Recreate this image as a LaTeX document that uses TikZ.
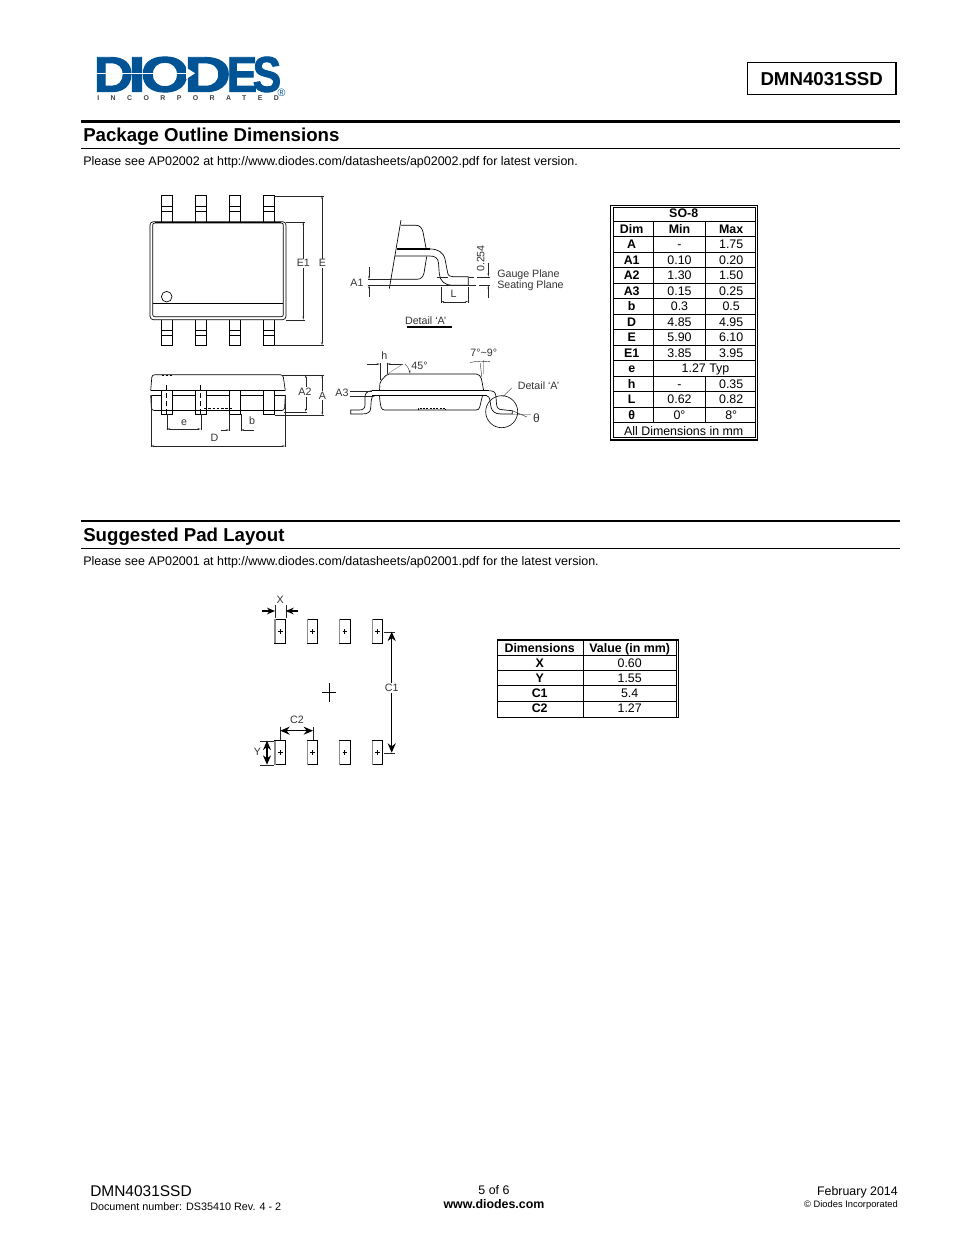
\documentclass[tikz,border=0pt]{standalone}
\usepackage{fontspec}
\usepackage{graphicx}
\setmainfont{Liberation Sans}
\newfontfamily\logofont{Liberation Sans Bold}[FakeBold=1.8]
\usetikzlibrary{arrows.meta}
\newcommand{\fsz}[1]{\fontsize{#1}{#1}\selectfont}
\tikzset{
  txt/.style={inner sep=0pt, anchor=base, font=\fsz{9.3}},
  dimtxt/.style={inner sep=0.8pt, fill=white, text=black!80, font=\fsz{8}},
  plaintxt/.style={inner sep=0pt, text=black!80, font=\fsz{8}},
  dimline/.style={line width=0.3pt, black!85},
  part/.style={line width=0.5pt, black},
  small/.style={dimline, {Stealth[length=2.5pt,width=1.2pt]}-{Stealth[length=2.5pt,width=1.2pt]}},
  big/.style={line width=1.1pt, black, {Stealth[length=7pt,width=6pt]}-{Stealth[length=7pt,width=6pt]}},
  bigin/.style={line width=1pt, black, -{Stealth[length=6pt,width=5pt]}},
  pad/.style={line width=0.6pt, black, fill=white},
  tick/.style={line width=0.7pt, black}
}
\begin{document}
\begin{tikzpicture}[x=0.75pt, y=-0.75pt]
\useasboundingbox (0,0) rectangle (954,1235);
% logo
\definecolor{logoblue}{RGB}{0,84,150}
\foreach \x/\c/\s/\n in {113.5/D/1.1/a, 137/I/1.25/b, 165/O/1.25/c, 207.5/D/1.3/d, 242/E/0.92/e, 267/S/0.86/f}
  \node[inner sep=0pt, anchor=base, text=logoblue, font=\logofont\fsz{37.5}] (logo\n) at (\x, 91.7) {\scalebox{\s}[1]{\c}};
\fill[white] (96,72.6) rectangle (188,74);
\fill[white] (186,67.5) -- (195,73.3) -- (186,79.2) -- cycle;
\node[inner sep=0pt, anchor=base west, text=black!75, font=\bfseries\fsz{5.2}\addfontfeature{LetterSpace=165}] (incorporated) at (97, 100.5) {INCORPORATED};
\node[inner sep=0pt, text=logoblue, font=\fsz{8}] (regmark) at (281.5, 92.5) {®};
% header
\draw[line width=0.8pt] (747.5,62.5) rectangle (896,94.5);
\node[txt, font=\bfseries\fsz{14}] (partno) at (821.7, 85.5) {DMN4031SSD};
% first section
\draw[line width=2pt] (81,121.3) -- (900,121.3);
\draw[line width=1.2pt] (81,148.5) -- (900,148.5);
\node[txt, anchor=base west, font=\bfseries\fsz{14}] (outlinetitle) at (83, 141.5) {Package Outline Dimensions};
\node[txt, anchor=base west, font=\fsz{9.36}] (outlinenote) at (83, 165) {Please see AP02002 at http://www.diodes.com/datasheets/ap02002.pdf for latest version.};
% top view
\draw[part, rounded corners=2.5pt] (150,221.7) rectangle (286,319.7);
\draw[part, rounded corners=1.5pt] (152.7,223) rectangle (283.3,316.7);
\draw[line width=1.1pt] (155,222.4) -- (281,222.4);
\draw[part] (152.7,303) -- (283.3,303);
\draw[part] (166.7,296.7) circle (5.3);
\foreach \x in {161.3, 195, 229.3, 262.9} {
  \draw[part] (\x,221.7) -- (\x,195.7) -- (\x+11.4,195.7) -- (\x+11.4,221.7);
  \draw[part] (\x,206.7) -- (\x+11.4,206.7) (\x,211.7) -- (\x+11.4,211.7);
  \draw[part] (\x,319.7) -- (\x,345.3) -- (\x+11.4,345.3) -- (\x+11.4,319.7);
  \draw[part] (\x,330) -- (\x+11.4,330) (\x,335) -- (\x+11.4,335);
}
\draw[dimline] (274.3,195.7) -- (323.5,195.7) (274.3,345.3) -- (323.5,345.3);
\draw[dimline] (286,221.7) -- (305,221.7) (286,319.7) -- (305,319.7);
\draw[small] (303.3,221.7) -- (303.3,319.7);
\draw[small] (322,195.7) -- (322,345.3);
\node[dimtxt] (lblEone) at (303.3,263.3) {E1};
\node[dimtxt] (lblE) at (322.5,263.3) {E};
% side view
\draw[part, rounded corners=2pt] (150.7,390.7) -- (152,374.7) -- (283,374.7) -- (285.3,390.7);
\draw[part, rounded corners=2pt] (150.7,395.3) -- (151.5,410.5) -- (284.5,410.5) -- (285.3,395.3);
\draw[part] (150.7,390.7) -- (285.3,390.7) (150.7,395.3) -- (285.3,395.3);
\draw[line width=1pt, dash pattern=on 2pt off 1pt] (161.7,375.2) -- (173.3,375.2);
\foreach \x in {161.3, 195, 229.3, 263.3} {
  \draw[pad] (\x,390.7) rectangle (\x+11.4,414.3);
  \draw[part] (\x,410.3) -- (\x+11.4,410.3);
}
\draw[line width=0.9pt, dash pattern=on 2pt off 1.2pt] (204,408.7) -- (231.7,408.7);
\draw[part, dash pattern=on 4pt off 2pt] (166.7,385) -- (166.7,414);
\draw[part, dash pattern=on 4pt off 2pt] (200.7,385) -- (200.7,414);
\draw[dimline] (166.7,414) -- (166.7,430) (200.7,414) -- (200.7,430);
\draw[small] (166.7,429) -- (200.7,429);
\node[plaintxt] (lble) at (184,422.5) {e};
\draw[dimline] (229.3,414.3) -- (229.3,431) (240.7,414.3) -- (240.7,431);
\draw[dimline, -{Stealth[length=2.5pt,width=1.2pt]}] (220.7,430) -- (229.3,430);
\draw[dimline, -{Stealth[length=2.5pt,width=1.2pt]}] (253.5,430) -- (240.7,430);
\node[plaintxt] (lblb) at (252,421) {b};
\draw[dimline] (150.7,395) -- (150.7,447) (285.3,395) -- (285.3,447);
\draw[small] (150.7,446) -- (285.3,446);
\node[plaintxt] (lblD) at (214.5,438) {D};
\draw[dimline] (283,374.7) -- (323.5,374.7) (284,411.7) -- (306.5,411.7) (274.7,415.3) -- (323.5,415.3);
\draw[small] (305.7,374.7) -- (305.7,411.7);
\draw[small] (322.3,374.7) -- (322.3,415.3);
\node[dimtxt] (lblAtwo) at (305,392) {A2};
\node[dimtxt] (lblA) at (322.5,395.5) {A};
% detail A
\draw[part] (401,220) -- (389.3,288.7);
\draw[part] (401,225.3) -- (416,225.3) .. controls (420,225.3) and (422,228) .. (423,232) -- (426,248);
\draw[part] (426.7,256.7) -- (424,273) .. controls (423,277) and (421,279.3) .. (417,279.3) -- (390,279.3);
\draw[line width=1pt] (396.7,249) -- (430,249);
\draw[part] (430,249) .. controls (438,249) and (443,252) .. (445,259) -- (447.5,272) .. controls (448,276) and (450,276.7) .. (453,276.7) -- (468.3,276.7) -- (468.3,285.3);
\draw[part] (395,256) -- (430,256) .. controls (435,256) and (438,258) .. (438.5,263) -- (439.3,274) .. controls (440,281) and (445,285.3) .. (452,285.3) -- (468.3,285.3);
\draw[dimline] (368.3,279.3) -- (391,279.3);
\draw[dimline] (368.3,285.3) -- (470,285.3);
\draw[dimline] (470,285.3) -- (476,285.3) (479,285.3) -- (490,285.3);
\draw[dimline] (436.7,276.7) -- (448,276.7) (469,276.7) -- (474,276.7) (477,276.7) -- (490,276.7);
\draw[dimline, {Stealth[length=2.5pt,width=1.2pt]}-] (369,279.3) -- (369,267.3);
\draw[dimline, {Stealth[length=2.5pt,width=1.2pt]}-] (369,285.3) -- (369,297.3);
\node[plaintxt] (lblAone) at (357,283) {A1};
\draw[dimline] (441,287) -- (441,303) (468.3,287) -- (468.3,303);
\draw[small] (441,301.7) -- (468.3,301.7);
\node[plaintxt] (lblL) at (453.7,294.3) {L};
\draw[dimline, {Stealth[length=2.5pt,width=1.2pt]}-] (488.3,276.7) -- (488.3,263.3);
\draw[dimline, {Stealth[length=2.5pt,width=1.2pt]}-] (488.3,285.3) -- (488.3,298.3);
\node[plaintxt, rotate=90] (lblgap) at (480.7,258.5) {0.254};
\node[plaintxt, anchor=west] (lblgauge) at (497,274.3) {Gauge Plane};
\node[plaintxt, anchor=west] (lblseat) at (497,286) {Seating Plane};
\node[plaintxt] (lblDetailone) at (425.7,320.5) {Detail `A'};
\draw[line width=0.9pt] (406.7,327) -- (451.7,327);
% front view
\draw[part, rounded corners=1.5pt] (379.5,390.7) -- (380,381.7) -- (387.3,374) -- (478,374) -- (481,376.7) -- (483.7,390.7);
\draw[part, rounded corners=2pt] (379.5,395.7) -- (380,402) -- (381.7,410) -- (479,410) -- (482.5,395.7);
\draw[part] (371.7,390.7) -- (489.3,390.7) (371.7,395.7) -- (487,395.7);
\draw[part] (371.7,390.7) .. controls (367,391.5) and (365,393) .. (365,397) -- (365,405) .. controls (365,408.5) and (363,410) .. (359,410) -- (350.7,410) -- (350.7,414) -- (362,414) .. controls (368,414) and (370.5,412) .. (370.7,408) -- (371.3,400) .. controls (371.5,397) and (372.5,395.7) .. (375,395.7);
\draw[part] (489.3,390.7) .. controls (493.5,390.7) and (495.7,392.5) .. (495.9,396) -- (496.5,404) .. controls (497,408) and (498.5,409.5) .. (502,409.7) -- (512.3,410.7) -- (512.3,414) -- (501,414) .. controls (495,414) and (492,411.5) .. (491,407) -- (490,401) .. controls (489.5,397.5) and (488.5,395.7) .. (486.5,395.7);
\draw[part, dash pattern=on 1.5pt off 1pt] (418.3,410) -- (418.3,408) -- (445,408) -- (445,410);
\draw[line width=0.45pt] (501.7,411.7) circle (16);
\draw[dimline] (503,396.5) -- (511.7,388);
\node[plaintxt] (lblDetailtwo) at (538.5,385.5) {Detail `A'};
\draw[dimline] (512.3,414.5) -- (531,414.5) (512.3,410.7) -- (527,417);
\node[plaintxt, font=\fsz{9}] (lbltheta) at (536.5,418) {θ};
\draw[dimline] (380,362.5) -- (380,380) (387.3,362.5) -- (387.3,374);
\draw[dimline, -{Stealth[length=2.5pt,width=1.2pt]}] (366.7,364) -- (380,364);
\draw[dimline, -{Stealth[length=2.5pt,width=1.2pt]}] (403,364) -- (387.3,364);
\node[plaintxt] (lblh) at (384.3,355.3) {h};
\draw[dimline, -{Stealth[length=2.5pt,width=1.2pt]}] (405,364) .. controls (408,367) and (409.5,370) .. (410,373.7);
\draw[dimline, black!50] (387.3,374) -- (403,364);
\node[plaintxt] (lblfortyfive) at (419.5,366) {45°};
\node[plaintxt] (lblangle) at (483.7,353.3) {7°\textasciitilde 9°};
\draw[dimline] (470,362.5) .. controls (476,361) and (484,361) .. (490,361.7);
\draw[dimline] (483.5,360) -- (483.5,374) (480.3,363.3) -- (481.7,376.7);
\draw[dimline] (349.5,390.7) -- (372,390.7) (349.5,395.7) -- (372,395.7);
\node[plaintxt] (lblAthree) at (342,392.7) {A3};
% outline table
\draw[line width=0.9pt] (610.7,205.3) rectangle (757.7,440);
\draw[line width=0.6pt] (613,206.9) rectangle (755.3,437.7);
\foreach \y in {221,236.5,252,267.5,283,298.5,314,329.5,345,360.5,376,391.5,407,422.5}
  \draw[line width=0.5pt] (613,\y) -- (755.3,\y);
\draw[line width=0.5pt] (653,221) -- (653,422.5);
\draw[line width=0.5pt] (705,221) -- (705,360.5) (705,376) -- (705,422.5);
\node[txt, font=\bfseries\fsz{9.3}] (tabtitle) at (683.7,217.8) {SO-8};
\foreach \y/\d/\lo/\hi [count=\i] in {233.3/Dim/Min/Max}{
  \node[txt, font=\bfseries\fsz{9.3}] (dimhead) at (631.7,\y) {\d};
  \node[txt, font=\bfseries\fsz{9.3}] (minhead) at (679.5,\y) {\lo};
  \node[txt, font=\bfseries\fsz{9.3}] (maxhead) at (731.2,\y) {\hi};
}
\foreach \y/\d/\lo/\hi [count=\i] in {248.5/A/-/1.75, 264.3/A1/0.10/0.20, 279.5/A2/1.30/1.50, 295/A3/0.15/0.25, 310.5/b/0.3/0.5, 326.3/D/4.85/4.95, 341/E/5.90/6.10, 357/E1/3.85/3.95, 388/h/-/0.35, 403.5/L/0.62/0.82, 419/θ/0°/8°}{
  \node[txt, font=\bfseries\fsz{9.3}] (dim\i) at (631.7,\y) {\d};
  \node[txt] (min\i) at (679.5,\y) {\lo};
  \node[txt] (max\i) at (731.2,\y) {\hi};
}
\node[txt, font=\bfseries\fsz{9.3}] (dime) at (631.7,372) {e};
\node[txt] (typ) at (705.5,372) {1.27 Typ};
\node[txt] (allmm) at (683.7,435.5) {All Dimensions in mm};
% second section
\draw[line width=1.5pt] (81,521.3) -- (900,521.3);
\draw[line width=1.2pt] (81,548.5) -- (900,548.5);
\node[txt, anchor=base west, font=\bfseries\fsz{14}] (padtitle) at (83, 541.5) {Suggested Pad Layout};
\node[txt, anchor=base west, font=\fsz{9.36}] (padnote) at (83, 565) {Please see AP02001 at http://www.diodes.com/datasheets/ap02001.pdf for the latest version.};
% pads
\foreach \x in {275, 307.3, 339.7, 372.3}
  \foreach \y in {619.3, 740.7} {
    \draw[line width=0.8pt] (\x,\y) rectangle (\x+10.5,\y+24);
    \draw[line width=1pt, black!45] (\x,\y) -- (\x,\y+24);
    \draw[tick] (\x+3,\y+12) -- (\x+7.5,\y+12) (\x+5.25,\y+9.7) -- (\x+5.25,\y+14.3);
  }
\draw[line width=0.6pt] (322.3,692.7) -- (335.7,692.7) (329,683.3) -- (329,701.7);
% pad dimensions
\draw[dimline] (275,605) -- (275,618) (285.7,605) -- (285.7,618);
\draw[bigin] (262.3,611) -- (275,611);
\draw[bigin] (298.3,611) -- (285.7,611);
\node[plaintxt] (lblX) at (280.3,600) {X};
\draw[dimline] (384.3,631.7) -- (395,631.7) (384.3,752.7) -- (395,752.7);
\draw[big] (391.7,631.7) -- (391.7,752.7);
\node[dimtxt] (lblCone) at (391.7,688) {C1};
\draw[dimline] (280.3,726.7) -- (280.3,740) (313,726.7) -- (313,740);
\draw[big] (280.3,730.7) -- (313,730.7);
\node[plaintxt] (lblCtwo) at (297,720) {C2};
\draw[dimline] (260,740.7) -- (274,740.7) (260,764.7) -- (274,764.7);
\draw[big] (267,740.7) -- (267,764.7);
\node[plaintxt] (lblY) at (257.5,752) {Y};
% pad table
\draw[line width=1pt] (497.7,640) rectangle (678.5,717.5);
\draw[line width=0.4pt] (676.3,640) -- (676.3,717.5);
\foreach \y in {655,670.3,685.7,701}
  \draw[line width=0.5pt] (497.7,\y) -- (676.3,\y);
\draw[line width=0.6pt] (583,640) -- (583,717.5);
\node[txt, font=\bfseries\fsz{9.3}] (padhead) at (539.7,652.3) {Dimensions};
\node[txt, font=\bfseries\fsz{9.3}] (valhead) at (629.7,652.3) {Value (in mm)};
\foreach \y/\d/\v [count=\i] in {667.3/X/0.60, 682.3/Y/1.55, 697.5/C1/5.4, 712.5/C2/1.27}{
  \node[txt, font=\bfseries\fsz{9.3}] (name\i) at (539.7,\y) {\d};
  \node[txt] (val\i) at (629.7,\y) {\v};
}
% footer
\node[txt, anchor=base west, font=\fsz{11.6}] (footpart) at (90,1196) {DMN4031SSD};
\node[txt, anchor=base west, font=\fsz{8.1}] (footdoc) at (90,1210) {Document number: DS35410 Rev. 4 - 2};
\node[txt, font=\fsz{9.3}] (footpage) at (494,1194) {5 of 6};
\node[txt, font=\bfseries\fsz{9.3}] (footweb) at (494,1208) {www.diodes.com};
\node[txt, anchor=base east, font=\fsz{9.3}] (footdate) at (898,1195.5) {February 2014};
\node[txt, anchor=base east, font=\fsz{7}] (footcopy) at (898,1207.5) {© Diodes Incorporated};
\end{tikzpicture}
\end{document}
